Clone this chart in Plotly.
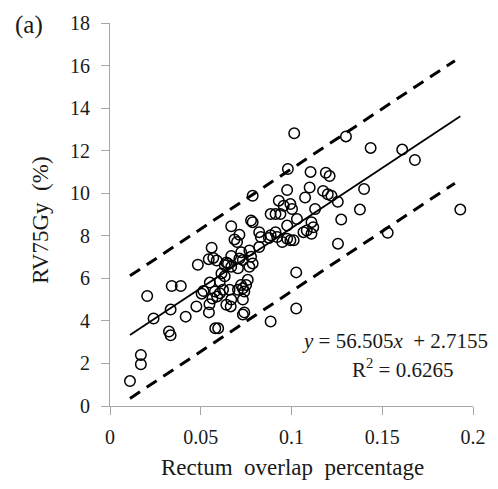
import plotly.graph_objects as go

# Data
overlap = [0.011, 0.017, 0.017, 0.0205, 0.024, 0.034, 0.039, 0.0334, 0.0325, 0.0334,
           0.0417, 0.0476, 0.0484, 0.0505, 0.0515, 0.0545, 0.0548, 0.0544, 0.0588, 0.0569,
           0.0560, 0.0550, 0.0605, 0.0580, 0.0596, 0.0564, 0.0590, 0.0578, 0.0605, 0.0623,
           0.0659, 0.0705, 0.0632, 0.0614, 0.0665, 0.0641, 0.0668, 0.0668, 0.0632, 0.0650,
           0.0668, 0.0641, 0.0713, 0.0732, 0.0705, 0.0777, 0.0786, 0.0768, 0.0822, 0.0740,
           0.0732, 0.0732, 0.0722, 0.0750, 0.0759, 0.0740, 0.0732, 0.0668, 0.0686, 0.0713,
           0.0700, 0.0777, 0.0786, 0.0786, 0.0822, 0.0831, 0.0876, 0.0885, 0.0912, 0.0921,
           0.0885, 0.0912, 0.0939, 0.0930, 0.0957, 0.0994, 0.1003, 0.0976, 0.0980, 0.1015,
           0.1100, 0.1075, 0.1130, 0.0976, 0.1030, 0.0976, 0.0994, 0.0949, 0.1012, 0.1066,
           0.1084, 0.1110, 0.1120, 0.1110, 0.1026, 0.1026, 0.0885, 0.1105, 0.1189, 0.1210,
           0.1174, 0.1200, 0.1220, 0.1255, 0.1274, 0.1256, 0.1300, 0.1436, 0.1610, 0.1680,
           0.1400, 0.1377, 0.1530, 0.1930, 0.0723, 0.0768]
rv75 = [1.17, 2.40, 1.96, 5.17, 4.11, 5.64, 5.64, 4.53, 3.50, 3.32,
        4.20, 4.68, 6.64, 5.28, 5.40, 4.40, 4.78, 6.90, 6.84, 6.96,
        7.44, 5.80, 5.85, 3.65, 3.65, 5.05, 5.15, 5.38, 5.30, 5.46,
        5.46, 5.46, 6.10, 6.23, 4.68, 4.76, 5.00, 6.54, 6.62, 6.70,
        7.05, 6.74, 6.93, 6.86, 6.47, 7.01, 6.70, 6.54, 7.47, 5.38,
        5.00, 5.53, 5.69, 5.69, 5.93, 4.40, 4.30, 8.45, 7.83, 8.05,
        7.71, 8.72, 8.64, 9.88, 8.17, 7.94, 7.90, 8.02, 8.17, 7.94,
        9.02, 9.02, 9.02, 9.65, 9.41, 9.49, 9.26, 10.15, 11.14, 12.82,
        10.27, 9.80, 9.26, 8.48, 8.79, 7.86, 7.79, 7.71, 7.79, 8.17,
        8.25, 8.09, 8.40, 8.64, 6.28, 4.58, 3.97, 11.00, 10.96, 10.81,
        10.11, 9.95, 9.88, 9.60, 8.76, 7.63, 12.67, 12.13, 12.05, 11.56,
        10.20, 9.23, 8.14, 9.23, 7.23, 7.31]

slope = 56.505
intercept = 2.7155
r_squared = 0.6265
fit_x = [0.011, 0.193]
upper_offset = 2.78
lower_offset = -2.98
band_x = [0.011, 0.190]

x_ticks = [0, 0.05, 0.1, 0.15, 0.2]
x_tick_text = ["0", "0.05", "0.1", "0.15", "0.2"]
y_ticks = [0, 2, 4, 6, 8, 10, 12, 14, 16, 18]

FONT = "Liberation Serif, Times New Roman, serif"
TXT = "#1a1a1a"
AX = "#a6a6a6"

fig = go.Figure()

fig.add_trace(go.Scatter(
    x=overlap, y=rv75, mode="markers",
    marker=dict(symbol="circle-open", size=10.5, color="black", line=dict(width=1.5, color="black")),
    showlegend=False, hoverinfo="x+y"))

fig.add_trace(go.Scatter(
    x=fit_x, y=[slope * v + intercept for v in fit_x], mode="lines",
    line=dict(color="black", width=1.8), showlegend=False))

fig.add_trace(go.Scatter(
    x=band_x, y=[slope * v + intercept + upper_offset for v in band_x], mode="lines",
    line=dict(color="black", width=3, dash="12px,8px"), showlegend=False))

fig.add_trace(go.Scatter(
    x=band_x, y=[slope * v + intercept + lower_offset for v in band_x], mode="lines",
    line=dict(color="black", width=3, dash="12px,8px"), showlegend=False))

fig.update_layout(
    width=498, height=489,
    margin=dict(l=110, r=19, t=19, b=83),
    paper_bgcolor="white", plot_bgcolor="white",
    font=dict(family=FONT, color=TXT, size=20),
    xaxis=dict(range=[0, 0.2], tickvals=x_ticks, ticktext=x_tick_text,
               showline=True, linecolor=AX, linewidth=1.2, showgrid=False, zeroline=False,
               ticks="outside", ticklen=8, tickcolor=AX, tickwidth=1.2,
               tickfont=dict(family=FONT, size=20, color=TXT), ticklabelstandoff=5),
    yaxis=dict(range=[0, 18], tickvals=y_ticks,
               showline=True, linecolor=AX, linewidth=1.2, showgrid=False, zeroline=False,
               ticks="outside", ticklen=8, tickcolor=AX, tickwidth=1.2,
               tickfont=dict(family=FONT, size=20, color=TXT), ticklabelstandoff=7),
    annotations=[
        dict(text="(a)", xref="paper", yref="paper", x=-0.222, y=0.995,
             xanchor="center", yanchor="middle",
             showarrow=False, font=dict(family=FONT, size=25, color=TXT)),
        dict(text="RV75Gy  (%)", xref="paper", yref="paper", x=-0.19, y=0.484,
             xanchor="center", yanchor="middle",
             textangle=-90, showarrow=False, font=dict(family=FONT, size=23, color=TXT)),
        dict(text="Rectum  overlap  percentage", xref="paper", yref="paper", x=0.504, y=-0.16,
             xanchor="center", yanchor="middle",
             showarrow=False, font=dict(family=FONT, size=23, color=TXT)),
        dict(text=f"<i>y</i> = {slope}<i>x</i>  + {intercept}", xref="paper", yref="paper",
             x=1.046, y=0.17, xanchor="right", yanchor="middle", showarrow=False,
             font=dict(family=FONT, size=21, color=TXT)),
        dict(text=f"R<sup>2</sup> = {r_squared}", xref="paper", yref="paper",
             x=0.805, y=0.098, xanchor="center", yanchor="middle", showarrow=False,
             font=dict(family=FONT, size=21, color=TXT)),
    ],
)

fig.write_html("out.html", config={"displayModeBar": False},
               post_script="document.body.style.margin='0';")
